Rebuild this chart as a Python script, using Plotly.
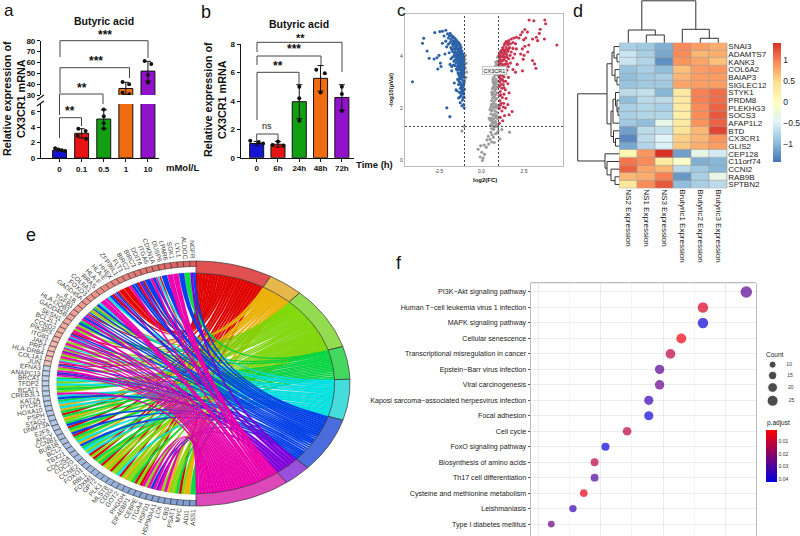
import math
import plotly.graph_objects as go

W, H = 800, 536
FONT = "Liberation Sans"

# ---------------- panel a ----------------
A_LABELS = ["0", "0.1", "0.5", "1", "10"]
A_VALUES = [1.0, 3.2, 5.05, 36, 52]
A_ERR = [0.12, 0.6, 1.2, 5.7, 9]
A_DOT_X = [-.2, -.05, .1, .25, .85, 1.18, .82, 1.2, 2, 2, 2, 2, 2.85, 3.15, 2.85, 3.15, 3.85, 4.15, 4, 4]
A_DOT_Y = [1.25, 1.1, 1.0, .9, 3.8, 3.5, 2.9, 2.5, 6.3, 5.4, 4.5, 3.8, 42, 39.8, 32, 30.6, 61.3, 58.5, 48.4, 41.4]
BAR_COLORS = ["#1414d2", "#e81414", "#12a012", "#f06c12", "#9212cc"]

# ---------------- panel b ----------------
B_LABELS = ["0", "6h", "24h", "48h", "72h"]
B_VALUES = [1.0, .95, 3.95, 5.6, 4.25]
B_ERR = [.15, .2, 1.2, .9, .9]
B_DOT_X = [-.3, .1, .3, 1, .75, 1.25, 2, 2, 2, 2.8, 3.2, 3, 4, 4, 4]
B_DOT_Y = [1.2, 1.1, 1.0, 1.15, .9, .85, 5.0, 4.2, 2.6, 6.2, 5.95, 4.6, 5.0, 4.5, 3.3]

# ---------------- panel c ----------------
VOLC_BLUE = [(-4.06,3.03),(-3.4,4.71),(-3.47,4.52),(-3.2,4.22),(-3.08,3.94),(-2.04,2.02),(-1.86,1.68),(-2.79,3.91),(-2.62,3.96),(-2.5,4.05),(-2.42,3.75),(-2.38,3.62),(-2.57,3.52),(-1.85,3.7),(-1.75,3.62),(-1.6,2.98),(-1.5,2.72),(-1.3,2.42),
(-2.75,4.93),(-2.45,4.97),(-2.3,4.98),(-2.1,5.02),(-2.0,4.88),(-1.85,4.9),(-2.2,4.8),(-1.75,4.82),(-1.65,4.76),(-1.95,4.72),(-1.55,4.7),(-1.8,4.66),(-1.45,4.62),(-2.1,4.6),(-1.7,4.58),(-1.35,4.55),(-1.55,4.5),(-2.3,4.52),(-1.95,4.48),(-1.25,4.45),(-1.45,4.42),(-1.65,4.4),(-1.8,4.35),(-2.05,4.38),(-1.2,4.35),(-1.35,4.3),(-1.55,4.28),(-1.15,4.22),(-1.3,4.18),(-1.45,4.15),(-1.7,4.2),(-1.9,4.15),(-1.1,4.1),(-1.25,4.05),(-1.4,4.02),(-1.6,4.05),(-2.15,4.1),(-1.05,3.98),(-1.2,3.95),(-1.35,3.9),(-1.55,3.88),(-1.8,3.92),(-1.05,3.85),(-1.18,3.8),(-1.3,3.78),(-1.5,3.75),(-1.02,3.72),(-1.12,3.68),(-1.28,3.65),(-1.42,3.62),(-1.65,3.68),(-1.02,3.6),(-1.15,3.55),(-1.3,3.5),(-1.48,3.52),(-1.05,3.45),(-1.2,3.42),(-1.38,3.38),(-1.75,3.45),(-1.05,3.32),(-1.15,3.28),(-1.3,3.25),(-1.02,3.2),(-1.22,3.15),(-1.4,3.12),(-1.1,3.08),(-1.02,3.0),(-1.18,2.95),(-1.35,2.92),(-1.08,2.85),(-1.25,2.78),(-1.02,2.72),(-1.15,2.65),(-1.45,2.68),(-1.05,2.55),(-1.22,2.48),(-1.35,2.4),(-1.02,2.42),(-1.12,2.32),(-1.25,2.22),(-1.05,2.15),(-1.15,2.1),(-1.02,2.02),
(-1.5,4.55),(-1.4,4.48),(-1.6,4.62),(-1.28,4.38),(-1.5,4.36),(-1.62,4.3),(-1.22,4.25),(-1.38,4.22),(-1.55,4.18),(-1.15,4.12),(-1.32,4.1),(-1.48,4.08),(-1.12,4.0),(-1.28,3.98),(-1.44,3.95),(-1.1,3.9),(-1.25,3.86),(-1.4,3.82),(-1.08,3.76),(-1.22,3.72),(-1.35,3.7),(-1.1,3.62),(-1.22,3.58),(-1.38,3.55),(-1.1,3.5),(-1.25,3.35),(-1.1,3.38),(-1.12,3.22),(-1.32,3.05),(-1.14,2.8),(-1.08,2.62),(-1.2,2.88),
(-1.72,4.72),(-1.58,4.58),(-1.88,4.8),(-1.42,4.52),(-1.7,4.48),(-1.3,4.48),(-1.85,4.55),(-1.62,4.5),(-1.48,4.46),(-1.75,4.28),(-1.42,4.3),(-1.28,4.28),(-1.6,4.15),(-1.18,4.16),(-1.08,4.02),(-1.52,4.0),(-1.7,3.98),(-1.2,4.08),(-1.35,4.12),(-1.46,3.9),(-1.32,3.85),(-1.62,3.82),(-1.14,3.88),(-1.18,3.7),(-1.04,3.68),(-1.55,3.65),(-1.3,3.6),(-1.08,3.56),(-1.42,3.48),(-1.14,3.45),(-1.24,3.5),(-1.34,3.32),(-1.08,3.25),(-1.18,3.18),(-1.3,3.15),(-1.08,2.95),(-1.26,3.0),(-1.16,2.72),(-1.3,2.62),(-1.18,2.55),(-1.08,2.42)]
VOLC_RED = [(2.8,5.42),(3.08,5.39),(3.72,5.42),(3.77,5.27),(3.45,5.06),(3.4,4.9),(3.22,4.75),(3.0,4.68),(3.3,4.62),(3.7,4.68),(4.43,4.45),(2.55,5.05),(2.7,4.95),(2.4,4.95),(2.3,4.85),(2.6,4.72),(2.48,4.65),(2.2,4.72),(2.05,4.75),(2.78,4.45),(2.55,4.4),(2.4,4.3),(2.72,4.18),(2.5,4.05),(2.3,4.1),(2.45,3.9),(3.0,3.85),(3.12,3.72),(3.2,3.55),(2.41,3.45),(2.1,3.7),(2.0,3.4),
(1.9,4.72),(1.75,4.68),(1.6,4.62),(1.45,4.58),(1.85,4.55),(1.7,4.5),(1.55,4.46),(1.35,4.45),(2.0,4.5),(1.25,4.35),(1.45,4.35),(1.65,4.35),(1.85,4.32),(2.05,4.3),(1.18,4.25),(1.35,4.22),(1.55,4.2),(1.75,4.18),(1.95,4.1),(1.12,4.12),(1.3,4.1),(1.48,4.08),(1.68,4.05),(1.04,4.05),(1.2,4.0),(1.38,3.98),(1.6,3.92),(1.85,3.95),(1.08,3.9),(1.25,3.85),(1.45,3.82),(1.7,3.75),(1.05,3.78),(1.2,3.72),(1.38,3.7),(1.58,3.62),(1.85,3.5),(1.02,3.65),(1.15,3.6),(1.3,3.55),(1.5,3.48),(1.05,3.5),(1.2,3.42),(1.42,3.35),(1.02,3.38),(1.15,3.3),(1.32,3.22),(1.58,3.2),(1.05,3.2),(1.22,3.12),(1.42,3.05),(1.08,3.02),(1.28,2.92),(1.55,2.95),(1.05,2.85),(1.2,2.78),(1.4,2.72),(1.1,2.65),(1.32,2.55),(1.62,2.6),(1.05,2.5),(1.22,2.42),(1.45,2.38),(1.08,2.3),(1.3,2.2),(1.55,2.15),(1.1,2.12),(1.4,2.02),(1.05,2.0),(1.2,1.9),(1.62,1.75),(1.8,1.88),(1.35,1.72),(1.1,1.65),(1.25,1.52),(1.05,1.42),
(1.52,4.55),(1.38,4.52),(1.62,4.5),(1.28,4.28),(1.42,4.25),(1.58,4.28),(1.12,4.2),(1.22,4.15),(1.4,4.15),(1.1,4.0),(1.28,4.02),(1.5,3.98),(1.15,3.85),(1.32,3.9),(1.52,3.72),(1.12,3.72),(1.28,3.68),(1.1,3.45),(1.28,3.45),(1.08,3.3),(1.22,3.25),(1.12,3.12),(1.3,3.05),(1.15,2.92),(1.32,2.8),(1.12,2.52),(1.15,2.2),(1.28,2.05)]
VOLC_GRAY = [(.95,3.98),(.9,3.82),(.98,3.72),(.82,3.65),(.92,3.55),(.78,3.42),(.9,3.35),(.98,3.28),(.72,3.2),(.85,3.12),(.95,3.05),(.7,2.98),(.82,2.9),(.92,2.82),(.65,2.75),(.78,2.68),(.9,2.6),(.62,2.52),(.75,2.45),(.88,2.38),(.6,2.3),(.72,2.22),(.85,2.15),(.95,2.08),(.55,2.05),(.68,1.98),(.8,1.9),(.92,1.85),(.55,1.78),(.68,1.72),(.82,1.65),(.95,1.6),(.5,1.55),(.62,1.5),(.75,1.45),(.88,1.4),(.55,1.35),(.7,1.32),(.85,1.34),(.95,1.28),(.6,1.22),(.72,1.18),(.98,1.12),(.55,1.08),(.82,1.02),(.62,.98),(.4,.92),(.7,.88),(.5,.8),(.32,.78),(.6,.7),(.42,.62),(.75,.68),(.15,.58),(.28,.5),(-.05,.55),(.02,.3),(.18,.22),(-.08,.12),(.1,.08),(.05,-.02),(-.2,.42),(1.2,1.18),(1.65,1.08),(1.08,.82),(-1.15,1.12),(-1.02,1.3),(-.98,3.9),(-.9,3.75),(-.95,3.55),(-.88,3.4),(-.92,3.2),(-.98,3.1),(-.95,4.05),(-1.0,2.75),(.72,3.55),(.68,3.05),(.6,2.62),(.75,2.82),(.5,1.95),(.45,1.62),(.72,2.05),(.58,2.15),(.88,2.95),
(.84,3.78),(.92,3.68),(.72,3.38),(.82,3.28),(.68,3.12),(.8,3.02),(.75,2.92),(.68,2.82),(.85,2.75),(.7,2.58),(.82,2.52),(.66,2.4),(.8,2.32),(.64,2.15),(.78,2.08),(.88,2.02),(.6,1.9),(.75,1.78),(.88,1.72),(.58,1.62),(.7,1.58),(.82,1.5),(.65,1.42),(.78,1.28),(.92,1.05)]

# ---------------- panel d ----------------
HEAT_ROWS = ["SNAI3","ADAMTS7","KANK3","COL6A2","BAIAP3","SIGLEC12","STYK1","PRDM8","PLEKHG3","SOCS3","AFAP1L2","BTD","CX3CR1","GLIS2","CEP128","C11orf74","CCNI2","RAB9B","SPTBN2"]
HEAT_COLS = ["NS2 Expression","NS1 Expression","NS3 Expression","Brutyric1 Expression","Brutyric2 Expression","Brutyric3 Expression"]
HEAT_Z = [
[-.8,-.85,-1.05,.95,.85,.75],[-.6,-.8,-1.1,.95,.7,.75],[-.6,-.75,-1.25,.9,.8,.65],
[-.9,-.8,-.95,.65,.85,.9],[-.95,-.85,-.8,.7,.85,.85],[-.9,-.85,-.85,.8,.85,.85],
[-.7,-.65,-1.0,.3,1.0,1.1],[-.95,-.7,-.7,.3,1.0,1.1],[-.8,-.75,-.8,.3,.95,1.15],
[-.8,-.75,-.75,.25,.95,1.2],[-.85,-.95,-.35,.3,.9,1.15],[-1.15,-.7,-.65,.4,.7,1.3],
[-1.3,-.7,-.45,.55,.7,.9],[-1.1,-.75,-.5,.6,.75,.85],[.1,.9,1.45,-1.15,-.35,-.55],
[1.05,.95,.3,-.1,-1.05,-1.0],[1.15,.8,.7,-.7,-.85,-1.0],[.7,.75,1.0,-1.2,-.8,-.35],[.35,.95,1.2,-.95,-.8,-.7]]
HEAT_SCALE = ["#4575B4","#91BFDB","#E0F3F8","#FFFFBF","#FEE090","#FC8D59","#D73027"]
ROW_TREE = (577.7,
    (607, (612,(614,0,(617,1,2)),(615,3,(617,4,5))),
          (611,(613,(615.5,6,(617,7,(618,8,9))),10),(613.5,11,(615.5,12,13)))),
    (605, 14, (607,15,(611,16,(615,17,18)))))
COL_TREE = (0.8, (30,0,(35,1,2)), (29.3,3,(38.3,4,5)))

# ---------------- panel e ----------------
TERM_EDGES = [0, 29, 42.3, 72.4, 88, 107.4, 133.5, 144, 180]
TERM_BAND = ["#e05050","#e6b84c","#93dc50","#45d860","#45dcdc","#4a6cdc","#9a50dc","#dc48b8"]
TERM_FILL = ["#e60000","#f0b400","#80e000","#00e040","#00e8e8","#0040f0","#8000e0","#f000b0"]
TERM_KEYS = "roygcbpm"
GENES = ["NGFR","ALDOC","LYL1","SGK1","LPAR6","DUSP6","CDKN1A","ITGA6","DDIT4","BIRC3","BIRC2","FLT1","ZFP36L1","HHEX","HLA-E","HLA-F","RRAS","COL6A1","FOXO3","GADD45A","IL1B","TGFB1","HLA-DQB1","GADD45B","SESN1","BCL2L1","CCND2","PIK3R3","ITGB1","JAK1","PRF1","HLA-DRB4","COL1A1","JUN","EFNA3","ANAPC13","BRCA1","TFDP2","BCAT1","CREB3L1","KAT2A","PYCR1","HOXA10","PSPH","STAG2","DNMT3A","E2F5","AHCY","CCNB1","BUB1B","BCL2","TBX21","CDC25A","CDC20","CCNE2","FOXO1","RBL1","FOXM1","GPT2","PLK1","MLST8","CD3G","GOT2","PHGDH","EIF4EBP1","CEBPE","ITGA4","HSPD1","HSP90AA1","LCK","CBS","PSAT1","MYC","ADI1","ASS1"]
GENE_LINKS = ["bp","g","b","m","m","b","rcm","bm","b","rbp","rb","bm","r","r","rbp","rb","cm","m","bc","ogb","oyb","rbm","bm","gb","ym","ym","rbm","cpm","ym","ycm","ypm","ym","ycm","rbm","ym","bpm","gc","cy","yg","ym","bc","gc","oc","og","rg","oy","bg","rg","by","rg","yc","ob","cg","cy","ry","rg","yg","ry","oy","ry","cy","ry","oy","yg","ry","rm","ym","bm","pm","ym","oy","yg","ry","o","g"]
N_SALMON = 34

# ---------------- panel f ----------------
PATHWAYS = ["PI3K\u2212Akt signaling pathway","Human T\u2212cell leukemia virus 1 infection","MAPK signaling pathway","Cellular senescence","Transcriptional misregulation in cancer","Epstein\u2212Barr virus infection","Viral carcinogenesis","Kaposi sarcoma\u2212associated herpesvirus infection","Focal adhesion","Cell cycle","FoxO signaling pathway","Biosynthesis of amino acids","Th17 cell differentiation","Cysteine and methionine metabolism","Leishmaniasis","Type I diabetes mellitus"]
PATH_COUNT = [27, 23, 23, 21, 20, 19, 19, 18, 18, 16, 14, 13, 13, 12, 11, 9]
PATH_P = [.028, .008, .04, .004, .012, .028, .026, .034, .04, .012, .042, .012, .03, .006, .034, .025]
LEGEND_COUNTS = [10, 15, 20, 25]


def fx(px):
    return px / W


def fy(py):
    return 1 - py / H


fig = go.Figure()
shapes = []
annots = []


def seg(x0, y0, x1, y1, color="#333", width=1):
    shapes.append(dict(type="line", xref="paper", yref="paper", x0=fx(x0), y0=fy(y0), x1=fx(x1), y1=fy(y1),
                       line=dict(color=color, width=width)))


def text(px, py, s, size=9, bold=False, color="#111", angle=0, anchor="center"):
    annots.append(dict(xref="paper", yref="paper", x=fx(px), y=fy(py), text=s, showarrow=False, textangle=angle,
                       xanchor=anchor, yanchor="middle",
                       font=dict(family=FONT, size=size, color=color, weight="bold" if bold else "normal")))


def bracket(x0, x1, top, d0, d1):
    seg(x0, d0, x0, top, "#444")
    seg(x0, top, x1, top, "#444")
    seg(x1, top, x1, d1, "#444")


layout_axes = {}


def axes(n, xpx, ypx, xr, yr, xkw=None, ykw=None):
    s = "" if n == 1 else str(n)
    base = dict(showgrid=False, zeroline=False)
    layout_axes["xaxis" + s] = dict(base, domain=[fx(xpx[0]), fx(xpx[1])], range=xr, anchor="y" + s, **(xkw or {}))
    layout_axes["yaxis" + s] = dict(base, domain=[fy(ypx[1]), fy(ypx[0])], range=yr, anchor="x" + s, **(ykw or {}))
    return "x" + s, "y" + s


def bold_axis(**kw):
    return dict(showline=True, linecolor="#111", linewidth=1.2, ticks="outside", ticklen=3, tickwidth=1.1, tickcolor="#111",
                tickfont=dict(family=FONT, size=8, color="#111", weight="bold"), **kw)


HIDE = dict(visible=False)
IDX = list(range(5))

# ----- a -----
for n, ypx, yr, ykw in [
    (1, (104, 158), [0, 7], dict(tickvals=[0, 2, 4, 6])),
    (2, (40.7, 95), [30, 80], dict(tickvals=[30, 40, 50, 60, 70, 80])),
]:
    xkw = bold_axis(tickvals=IDX, ticktext=A_LABELS) if n == 1 else HIDE
    xa, ya = axes(n, (41, 159), ypx, [-.84, 4.5], yr, xkw, bold_axis(**ykw))
    fig.add_trace(go.Bar(x=IDX, y=A_VALUES, width=.63, marker=dict(color=BAR_COLORS, line=dict(color="#111", width=1)),
                         error_y=dict(type="data", array=A_ERR, color="#111", thickness=1, width=3), xaxis=xa, yaxis=ya,
                         showlegend=False, hoverinfo="skip"))
    fig.add_trace(go.Scatter(x=A_DOT_X, y=A_DOT_Y, mode="markers", marker=dict(color="#111", size=4), xaxis=xa, yaxis=ya,
                             showlegend=False, hoverinfo="skip"))
seg(37, 100, 44, 95, "#111", 1.1)
seg(37, 106, 44, 101, "#111", 1.1)
bracket(59.5, 81.5, 117.7, 138, 126)
bracket(59.5, 103, 94, 115, 104)
bracket(60, 129.5, 67.7, 93, 78)
bracket(60, 148, 40.7, 57, 58)
for px, py, s in [(70, 111, "**"), (82, 88, "**"), (96, 61, "***"), (105, 35, "***")]:
    text(px, py, s, 12, True)
text(104, 21, "Butyric acid", 10.5, True)
text(182, 167, "mMol/L", 9.5, True)
text(14, 99, "Relative expression of<br>CX3CR1 mRNA", 10.8, True, angle=-90)
text(9, 10.5, "a", 17)

# ----- b -----
xa, ya = axes(3, (240.7, 354), (44.3, 157.7), [-.75, 4.57], [0, 8],
              bold_axis(tickvals=IDX, ticktext=B_LABELS), bold_axis(tickvals=[0, 2, 4, 6, 8]))
fig.add_trace(go.Bar(x=IDX, y=B_VALUES, width=.66, marker=dict(color=BAR_COLORS, line=dict(color="#111", width=1)),
                     error_y=dict(type="data", array=B_ERR, color="#111", thickness=1, width=3), xaxis=xa, yaxis=ya,
                     showlegend=False, hoverinfo="skip"))
fig.add_trace(go.Scatter(x=B_DOT_X, y=B_DOT_Y, mode="markers", marker=dict(color="#111", size=4), xaxis=xa, yaxis=ya,
                         showlegend=False, hoverinfo="skip"))
bracket(256.7, 278, 134, 142, 140)
bracket(257, 299, 72.3, 120, 84)
bracket(257, 321, 56, 65, 65)
bracket(257, 342, 42.3, 52, 72)
for px, py, s, size, b in [(267, 126, "ns", 9, False), (278, 66, "**", 12, True), (294, 49, "***", 12, True), (300, 37.5, "**", 11, True)]:
    text(px, py, s, size, b)
text(299, 24, "Butyric acid", 10.5, True)
text(374, 164, "Time (h)", 9.5, True)
text(215, 100, "Relative expression of<br>CX3CR1 mRNA", 10.8, True, angle=-90)
text(206, 12, "b", 18)

# ----- c -----
box = dict(showline=True, linecolor="#bbb", linewidth=1.2, mirror=True, ticks="",
           tickfont=dict(family=FONT, size=5, color="#444"))
xa, ya = axes(4, (405, 563.3), (14, 166), [-4.5, 4.81], [-.23, 5.65],
              dict(box, tickvals=[-2.5, 0, 2.5], ticktext=["-2.5", "0.0", "2.5"]),
              dict(box, tickvals=[0, 2, 4]))
for pts, col in [(VOLC_GRAY, "#9a9a9a"), (VOLC_BLUE, "#2c62a8"), (VOLC_RED, "#c9344f")]:
    fig.add_trace(go.Scatter(x=[p[0] for p in pts], y=[p[1] for p in pts], mode="markers",
                             marker=dict(color=col, size=3.1), xaxis=xa, yaxis=ya, showlegend=False, hoverinfo="skip"))
for v in (-1, 1):
    shapes.append(dict(type="line", xref=xa, yref="paper", x0=v, x1=v, y0=fy(166), y1=fy(14),
                       line=dict(color="#444", width=1, dash="2px,2px")))
shapes.append(dict(type="line", xref="paper", yref=ya, x0=fx(405), x1=fx(563.3), y0=1.3, y1=1.3,
                   line=dict(color="#444", width=1, dash="2px,2px")))
annots.append(dict(xref=xa, yref=ya, x=.78, y=3.48, text="CX3CR1", showarrow=False, bgcolor="#f4f4f4", bordercolor="#aaa",
                   borderwidth=.6, borderpad=1, font=dict(family=FONT, size=5.5, color="#222")))
text(485, 180, "log2(FC)", 6, True)
text(391, 90, "-log10(pVal)", 6, True, angle=-90)
text(401, 10.5, "c", 17)

# ----- d -----
xa, ya = axes(5, (619.3, 727.3), (42.7, 188.3), [-.5, 5.5], [18.5, -.5],
              dict(tickvals=list(range(6)), ticktext=HEAT_COLS, tickangle=90, ticks="", ticklen=0,
                   tickfont=dict(family=FONT, size=8, color="#222")),
              dict(tickvals=list(range(19)), ticktext=HEAT_ROWS, side="right", ticks="", ticklen=0,
                   tickfont=dict(family=FONT, size=8, color="#222")))
shapes.append(dict(type="rect", xref="paper", yref="paper", x0=fx(619.3), x1=fx(727.3), y0=fy(188.3), y1=fy(42.7),
                   fillcolor="#9a9a9a", line=dict(width=0), layer="below"))
n_s = len(HEAT_SCALE)
fig.add_trace(go.Heatmap(z=HEAT_Z, x=list(range(6)), y=list(range(19)), xaxis=xa, yaxis=ya, zmin=-1.42, zmax=1.41,
                         xgap=.6, ygap=.6, hoverinfo="skip",
                         colorscale=[[i / (n_s - 1), c] for i, c in enumerate(HEAT_SCALE)],
                         colorbar=dict(x=fx(772.7), xanchor="left", y=fy(42.7), yanchor="top", len=119 / H, thickness=8,
                                       xpad=0, ypad=0, outlinewidth=0, ticks="", tickvals=[-1, -.5, 0, .5, 1],
                                       ticktext=["\u22121", "\u22120.5", "0", "0.5", "1"],
                                       tickfont=dict(family=FONT, size=8.5, color="#222"))))


def row_y(i):
    return 42.7 + 7.663 * (i + .5)


def col_x(i):
    return 619.3 + 18 * (i + .5)


def row_dend(node):
    if isinstance(node, int):
        return 619.3, row_y(node)
    x, a, b = node
    xa_, ya_ = row_dend(a)
    xb_, yb_ = row_dend(b)
    seg(x, ya_, xa_, ya_, "#333", 1)
    seg(x, yb_, xb_, yb_, "#333", 1)
    seg(x, ya_, x, yb_, "#333", 1)
    return x, (ya_ + yb_) / 2


def col_dend(node):
    if isinstance(node, int):
        return col_x(node), 42.7
    y, a, b = node
    xa_, ya_ = col_dend(a)
    xb_, yb_ = col_dend(b)
    seg(xa_, y, xa_, ya_, "#333", 1)
    seg(xb_, y, xb_, yb_, "#333", 1)
    seg(xa_, y, xb_, y, "#333", 1)
    return (xa_ + xb_) / 2, y


row_dend(ROW_TREE)
col_dend(COL_TREE)
text(578, 11, "d", 18)

# ----- e -----
CX, CY, RX, RY = 196, 383.5, 154, 122.5
xa, ya = axes(6, (CX - RX * 1.02, CX + RX * 1.02), (CY - RY * 1.02, CY + RY * 1.02), [-1.02, 1.02], [-1.02, 1.02], HIDE, HIDE)


def pol(r, deg):
    t = math.radians(deg)
    return r * math.cos(t), r * math.sin(t)


def poly(pts, fill, line="#333", lw=.7):
    fig.add_trace(go.Scatter(x=[p[0] for p in pts] + [pts[0][0]], y=[p[1] for p in pts] + [pts[0][1]], mode="lines", fill="toself",
                             fillcolor=fill, line=dict(color=line, width=lw), xaxis=xa, yaxis=ya, showlegend=False, hoverinfo="skip"))


def arc(r, a, b, n=12):
    return [pol(r, a + (b - a) * i / n) for i in range(n + 1)]


def mix(c1, c2, t):
    a = [int(c1[i:i + 2], 16) for i in (1, 3, 5)]
    b = [int(c2[i:i + 2], 16) for i in (1, 3, 5)]
    return "rgb(%d,%d,%d)" % tuple(round(u + (v - u) * t) for u, v in zip(a, b))


def shade(c):
    return mix(c, "#202020", .25)


n_g = len(GENES)
step = 180 / n_g
links = [[] for _ in TERM_KEYS]
gene_slots = {}
for gi, ls in enumerate(GENE_LINKS):
    ordered = sorted(ls, key=TERM_KEYS.index)
    w = step * .92 / len(ordered)
    for k, ch in enumerate(ordered):
        a0 = 90 + gi * step + step * .04 + k * w
        gene_slots[(gi, ch)] = (a0, a0 + w)
        links[TERM_KEYS.index(ch)].append(gi)


def bez(p0, p2, n=18):
    out = []
    for i in range(n + 1):
        t = i / n
        out.append(((1 - t) ** 2 * p0[0] + t * t * p2[0], (1 - t) ** 2 * p0[1] + t * t * p2[1]))
    return out


R_IN = .9
for ti, key in enumerate(TERM_KEYS):
    lo, hi = TERM_EDGES[ti], TERM_EDGES[ti + 1]
    members = links[ti]
    w = (hi - lo) / max(len(members), 1)
    for j, gi in enumerate(members):
        t0 = 90 - (lo + j * w)
        t1 = 90 - (lo + (j + 1) * w)
        g0, g1 = gene_slots[(gi, key)]
        path = bez(pol(R_IN, t0), pol(.905, g0)) + arc(.905, g0, g1, 3) + bez(pol(.905, g1), pol(R_IN, t1)) + arc(R_IN, t1, t0, 3)
        poly(path, TERM_FILL[ti], shade(TERM_FILL[ti]), .25)
for ti in range(len(TERM_KEYS)):
    a, b = 90 - TERM_EDGES[ti], 90 - TERM_EDGES[ti + 1]
    poly(arc(1, a, b, 20) + arc(R_IN, b, a, 20), TERM_BAND[ti])
for gi, g in enumerate(GENES):
    a, b = 90 + gi * step, 90 + (gi + 1) * step
    if gi < N_SALMON:
        col = mix("#dd5c5c", "#f8c4b4", gi / (N_SALMON - 1))
    else:
        col = mix("#c6d8ee", "#7e9cd2", (gi - N_SALMON) / (n_g - N_SALMON - 1))
    poly(arc(1, a, b, 3) + arc(.955, b, a, 3), col, "#333", .6)
    mid = (a + b) / 2
    ux, uy = pol(1, mid)
    px_, py_ = ux * RX, uy * RY
    norm = math.hypot(px_, py_)
    off = 4 + len(g) * 1.85
    lx = px_ + px_ / norm * off
    ly = py_ + py_ / norm * off
    text(CX + lx, CY - ly, g, 6.5, color="#444", angle=math.degrees(math.atan2(py_, -px_)))
text(31, 235, "e", 18)

# ----- f -----
grid = "#ececec"
xa, ya = axes(7, (530.7, 755.7), (282.7, 536), [7.1, 27.87], [15.77, -.6],
              dict(showgrid=True, gridcolor=grid, tick0=13.56, dtick=5.76, showticklabels=False, ticks="",
                   minor=dict(tick0=10.68, dtick=5.76, showgrid=True, gridcolor="#f4f4f4")),
              dict(showgrid=True, gridcolor=grid, tickvals=list(range(16)), ticktext=PATHWAYS, ticks="outside", ticklen=2,
                   tickcolor="#555", showline=True, linecolor="#bbb", linewidth=1.2, mirror=True,
                   tickfont=dict(family=FONT, size=7.1, color="#222")))
fig.add_trace(go.Scatter(
    x=PATH_COUNT, y=list(range(16)), mode="markers", xaxis=xa, yaxis=ya, showlegend=False, hoverinfo="skip",
    marker=dict(size=[4.5 + .26 * c for c in PATH_COUNT], color=[-p for p in PATH_P], cmin=-.0421, cmax=-.0013,
                colorscale=[[0, "#0000e0"], [1, "#ff0000"]], line=dict(width=0),
                colorbar=dict(x=fx(765.7), xanchor="left", y=fy(430), yanchor="top", len=51.7 / H, thickness=11, xpad=0, ypad=0,
                              outlinewidth=0, ticks="", tickvals=[-.01, -.02, -.03, -.04], ticktext=["0.01", "0.02", "0.03", "0.04"],
                              tickfont=dict(family=FONT, size=5, color="#333")))))
shapes.append(dict(type="line", xref="paper", yref="paper", x0=fx(530.7), x1=fx(755.7), y0=fy(282.7), y1=fy(282.7),
                   line=dict(color="#bbb", width=1.2)))
xa, ya = axes(8, (760, 795), (360, 406), [0, 1], [3.55, -.4], HIDE, HIDE)
fig.add_trace(go.Scatter(x=[.36] * 4, y=[0, .93, 1.96, 3.1], mode="markers+text", xaxis=xa, yaxis=ya, showlegend=False, hoverinfo="skip",
                         marker=dict(color="#000", size=[4.5 + .26 * c for c in LEGEND_COUNTS]),
                         text=["      " + str(c) for c in LEGEND_COUNTS], textposition="middle right",
                         textfont=dict(family=FONT, size=5, color="#333")))
text(775, 354, "Count", 6.5, color="#222")
text(778, 423, "p.adjust", 6.5, color="#222")
text(399, 263, "f", 18)

fig.update_layout(width=W, height=H, margin=dict(l=0, r=0, t=0, b=0, autoexpand=False), paper_bgcolor="white", plot_bgcolor="rgba(0,0,0,0)",
                  showlegend=False, shapes=shapes, annotations=annots, font=dict(family=FONT), barmode="overlay", **layout_axes)
fig.write_html("out.html", config=dict(displayModeBar=False),
               post_script="document.body.style.margin='0';document.documentElement.style.overflow='hidden';")
